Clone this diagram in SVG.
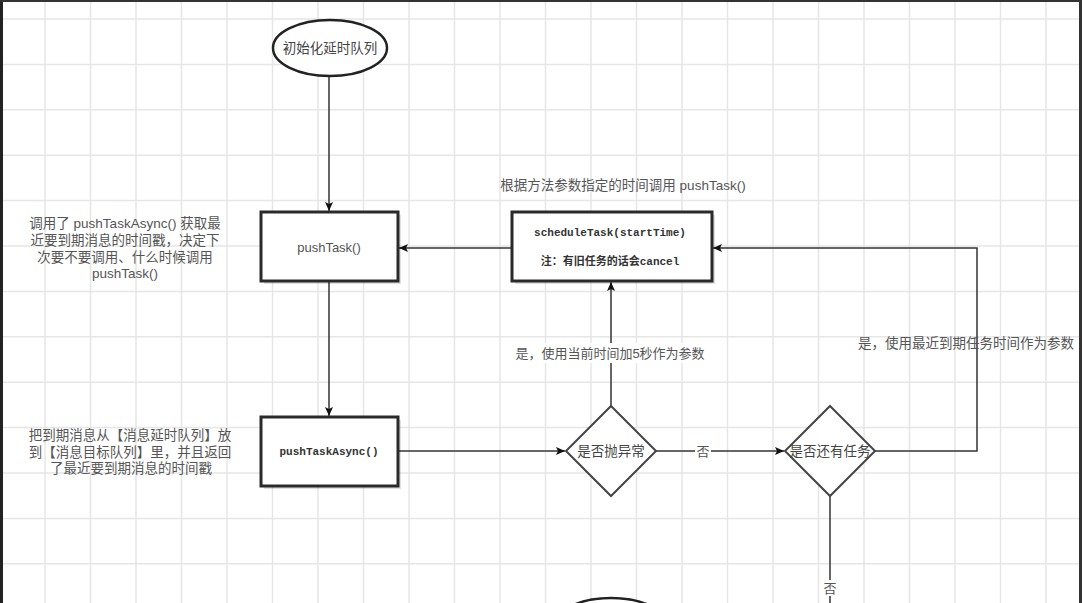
<svg xmlns="http://www.w3.org/2000/svg" width="1082" height="603" viewBox="0 0 1082 603">
<defs>
<style>
.grid{stroke:#e6e6e6;stroke-width:1.5;fill:none}
.box{fill:#fff;stroke:#2a2a2a;stroke-width:3}
.shadow{fill:#000;opacity:0.12}
.dia{fill:#fff;stroke:#444;stroke-width:2}
.ell{fill:#fff;stroke:#222;stroke-width:2.5}
.edge{fill:none;stroke:#333;stroke-width:1.5}
.lbl{font-family:'Liberation Sans','Noto Sans CJK SC',sans-serif;font-size:13px;fill:#555;text-anchor:middle;dominant-baseline:central}
.note{font-size:13.5px}
.node{font-family:'Liberation Sans','Noto Sans CJK SC',sans-serif;font-size:13.5px;fill:#444;text-anchor:middle;dominant-baseline:central}
.mono{font-family:'Liberation Mono','Noto Sans CJK SC',monospace;font-size:11px;fill:#333;text-anchor:middle;dominant-baseline:central;font-weight:bold}
.bg{fill:#fff}
</style>
<marker id="arr" markerWidth="10" markerHeight="10" refX="9" refY="5" orient="auto" markerUnits="userSpaceOnUse">
<path d="M0,1 L9,5 L0,9 L2,5 Z" fill="#111"/>
</marker>
</defs>
<rect width="1082" height="603" fill="#fff"/>
<path class="grid" d="M45 0V603M90.5 0V603M136 0V603M181.5 0V603M227 0V603M272.5 0V603M318 0V603M363.5 0V603M409 0V603M454.5 0V603M500 0V603M545.5 0V603M591 0V603M636.5 0V603M682 0V603M727.5 0V603M773 0V603M818.5 0V603M864 0V603M909.5 0V603M955 0V603M1000.5 0V603M1046 0V603M0 19H1082M0 64.4H1082M0 109.8H1082M0 155.2H1082M0 200.6H1082M0 246H1082M0 291.4H1082M0 336.8H1082M0 382.2H1082M0 427.6H1082M0 473H1082M0 518.4H1082M0 563.8H1082"/>
<rect x="0" y="0" width="3" height="603" fill="#222"/>
<rect x="0" y="0" width="1082" height="2" fill="#333"/>
<rect x="1079" y="0" width="3" height="603" fill="#333"/>

<g id="connectors">
<path class="edge" d="M329 77V211" marker-end="url(#arr)"/>
<path class="edge" d="M511 248H399" marker-end="url(#arr)"/>
<path class="edge" d="M329 282V416" marker-end="url(#arr)"/>
<path class="edge" d="M399 451H565" marker-end="url(#arr)"/>
<path class="edge" d="M611 406V282" marker-end="url(#arr)"/>
<path class="edge" d="M656 451H784" marker-end="url(#arr)"/>
<path class="edge" d="M874 451H977V248H713" marker-end="url(#arr)"/>
<path class="edge" d="M830 496V603"/>
<rect class="bg" x="516" y="343" width="188" height="20"/>
<text class="lbl" x="610" y="353">是，使用当前时间加5秒作为参数</text>
<rect class="bg" x="695" y="443" width="16" height="16"/>
<text class="lbl" x="703" y="451">否</text>
<text class="lbl note" x="966" y="343">是，使用最近到期任务时间作为参数</text>
<rect class="bg" x="822" y="580" width="16" height="16"/>
<text class="lbl" x="830" y="588">否</text>
</g>

<g id="start">
<ellipse class="ell" cx="330" cy="48" rx="57" ry="28"/>
<text class="node" x="330" y="48">初始化延时队列</text>
</g>

<g id="pushTask">
<rect class="shadow" x="264" y="215" width="137" height="69"/>
<rect class="box" x="261" y="212" width="137" height="69"/>
<text class="lbl" x="329" y="247" fill="#666">pushTask()</text>
</g>

<g id="scheduleTask">
<rect class="shadow" x="515" y="215" width="200" height="69"/>
<rect class="box" x="512" y="212" width="200" height="69"/>
<text class="mono" x="610" y="233">scheduleTask(startTime)</text>
<text class="mono" x="610" y="262" font-size="12">注：有旧任务的话会cancel</text>
</g>

<g id="pushTaskAsync">
<rect class="shadow" x="264" y="420" width="137" height="69"/>
<rect class="box" x="261" y="417" width="137" height="69"/>
<text class="mono" x="329" y="452">pushTaskAsync()</text>
</g>

<g id="throwDecision">
<path class="dia" d="M611 406L656 451L611 496L566 451Z"/>
<text class="node" x="611" y="451">是否抛异常</text>
</g>

<g id="taskDecision">
<path class="dia" d="M830 406L875 451L830 496L785 451Z"/>
<text class="node" x="830" y="451">是否还有任务</text>
</g>

<g id="end">
<ellipse class="ell" cx="611" cy="626" rx="57" ry="28"/>
</g>

<g id="notes">
<text class="lbl note" x="623" y="185">根据方法参数指定的时间调用 pushTask()</text>
<text class="lbl note" x="125" y="223">调用了 pushTaskAsync() 获取最</text>
<text class="lbl note" x="125" y="240">近要到期消息的时间戳，决定下</text>
<text class="lbl note" x="125" y="257">次要不要调用、什么时候调用</text>
<text class="lbl note" x="125" y="273">pushTask()</text>
<text class="lbl note" x="130" y="435">把到期消息从【消息延时队列】放</text>
<text class="lbl note" x="130" y="452">到【消息目标队列】里，并且返回</text>
<text class="lbl note" x="131" y="468">了最近要到期消息的时间戳</text>
</g>
</svg>
